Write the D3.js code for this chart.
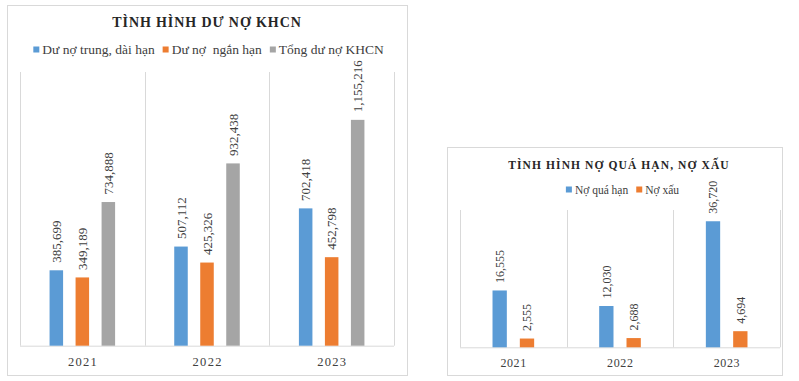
<!DOCTYPE html>
<html><head><meta charset="utf-8">
<script src="https://cdn.jsdelivr.net/npm/d3@7"></script>
<style>
body{margin:0;background:#fff;}
svg text{font-family:"Liberation Serif","Times New Roman",serif;white-space:pre;}
</style></head>
<body><svg id="c" width="799" height="381"></svg>
<script>
// Chart 1 data
const years1 = ["2021","2022","2023"];
const series1 = ["Dư nợ trung, dài hạn","Dư nợ  ngắn hạn","Tổng dư nợ KHCN"];
const trungDaiHan = [385699, 507112, 702418];
const nganHan = [349189, 425326, 452798];
const tongDuNo = [734888, 932438, 1155216];
const title1 = "TÌNH HÌNH DƯ NỢ KHCN";

// Chart 2 data
const years2 = ["2021","2022","2023"];
const series2 = ["Nợ quá hạn","Nợ xấu"];
const noQuaHan = [16555, 12030, 36720];
const noXau = [2555, 2688, 4694];
const title2 = "TÌNH HÌNH NỢ QUÁ HẠN, NỢ XẤU";

const colors = ["#5b9bd5","#ed7d31","#a5a5a5"];
const fmt = d3.format(",");
const svg = d3.select("#c");

function drawChart(cfg){
  const g = svg.append("g");
  g.append("rect").attr("x",cfg.frame[0]+0.5).attr("y",cfg.frame[1]+0.5)
    .attr("width",cfg.frame[2]).attr("height",cfg.frame[3])
    .attr("fill","#fff").attr("stroke","#d9d9d9");
  g.append("text").attr("x",cfg.titleX).attr("y",cfg.titleY)
    .attr("text-anchor","middle").attr("font-size",cfg.titleSize).attr("font-weight","bold")
    .attr("letter-spacing",cfg.titleLs).attr("fill","#262626").text(cfg.title);

  // legend
  const lg = g.append("g");
  let xx = 0;
  cfg.series.forEach((s,i)=>{
    const it = lg.append("g").attr("transform",`translate(${xx},0)`);
    it.append("rect").attr("x",0).attr("y",-7.5).attr("width",6).attr("height",6).attr("fill",colors[i]);
    const t = it.append("text").attr("x",9).attr("y",0).attr("font-size",cfg.legendSize).attr("fill","#404040").text(s);
    xx += 9 + t.node().getComputedTextLength() + 8;
  });
  const lw = xx - 8;
  lg.attr("transform",`translate(${cfg.legendCX - lw/2},${cfg.legendY})`);

  const x = d3.scaleBand().domain(cfg.years).range([cfg.x0,cfg.x1]).padding(0);
  const xi = d3.scaleBand().domain(d3.range(cfg.values.length)).range([0,x.bandwidth()])
    .paddingInner(cfg.pIn).paddingOuter(cfg.pOut);
  const y = d3.scaleLinear().domain([0,cfg.yMax]).range([cfg.yb,cfg.yt]);

  // gridlines at band boundaries
  const bounds = cfg.years.map(d=>x(d)).concat([cfg.x1]);
  g.selectAll(".vg").data(bounds).enter().append("line")
    .attr("x1",d=>Math.round(d)+0.5).attr("x2",d=>Math.round(d)+0.5)
    .attr("y1",cfg.yt).attr("y2",cfg.yb).attr("stroke","#d9d9d9");
  g.append("line").attr("x1",cfg.x0).attr("x2",cfg.x1).attr("y1",cfg.yb+0.5).attr("y2",cfg.yb+0.5)
    .attr("stroke","#d9d9d9");

  cfg.values.forEach((vals,si)=>{
    const bg = g.append("g");
    bg.selectAll("rect").data(vals).enter().append("rect")
      .attr("x",(d,i)=>x(cfg.years[i])+xi(si)).attr("width",xi.bandwidth())
      .attr("y",d=>y(d)).attr("height",d=>cfg.yb-y(d)).attr("fill",colors[si]);
    bg.selectAll("text").data(vals).enter().append("text")
      .attr("transform",(d,i)=>`translate(${x(cfg.years[i])+xi(si)+xi.bandwidth()/2+cfg.labelSize*0.35},${y(d)-7.5}) rotate(-90)`)
      .attr("font-size",cfg.labelSize).attr("fill","#404040").text(d=>fmt(d));
  });

  g.selectAll(".yl").data(cfg.years).enter().append("text")
    .attr("x",d=>x(d)+x.bandwidth()/2+cfg.yearLs/2).attr("y",cfg.labelY)
    .attr("text-anchor","middle").attr("font-size",cfg.yearSize).attr("letter-spacing",cfg.yearLs)
    .attr("fill","#404040").text(d=>d);
}

drawChart({frame:[7,5,400,370], title:title1, titleX:207, titleY:27, titleSize:14, titleLs:0.9,
  series:series1, legendCX:208.5, legendY:54, legendSize:13.5, labelSize:13,
  years:years1, values:[trungDaiHan,nganHan,tongDuNo], yearSize:12.5, yearLs:1.3,
  x0:20, x1:394, yt:72, yb:345.7, yMax:1400000, pIn:0.48, pOut:1.137, labelY:366});

drawChart({frame:[447,147,335,228], title:title2, titleX:619, titleY:168.5, titleSize:11.5, titleLs:1.1,
  series:series2, legendCX:622.5, legendY:194, legendSize:11.5, labelSize:12,
  years:years2, values:[noQuaHan,noXau], yearSize:12, yearLs:0.6,
  x0:460, x1:780, yt:210, yb:347.3, yMax:40000, pIn:0.476, pOut:1.19, labelY:366.5});
</script></body></html>
